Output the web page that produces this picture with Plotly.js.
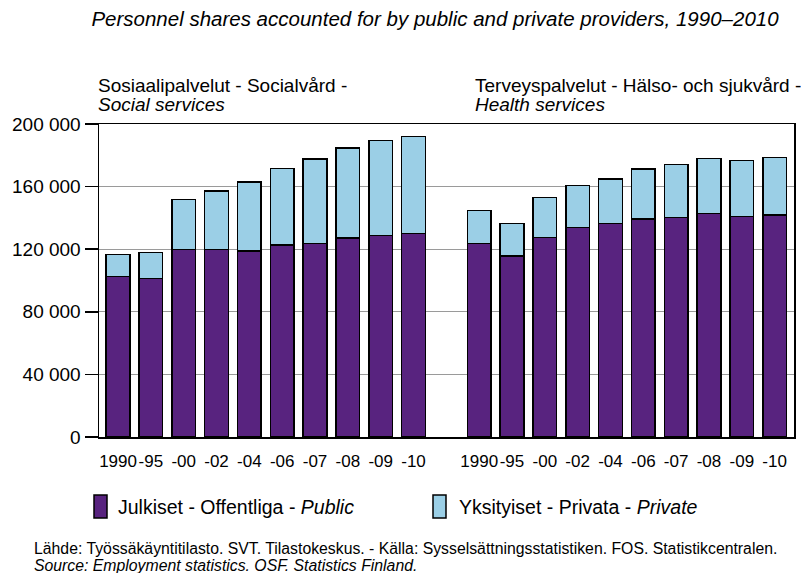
<!DOCTYPE html>
<html>
<head>
<meta charset="utf-8">
<script src="https://cdn.plot.ly/plotly-3.0.1.min.js"></script>
<style>
  html, body { margin: 0; padding: 0; background: #fff; }
  #chart { width: 801px; height: 573px; }
</style>
</head>
<body>
<div id="chart"></div>
<script>
// ---- Data ----
const categories = ['1990', '-95', '-00', '-02', '-04', '-06', '-07', '-08', '-09', '-10'];

// Social services (Sosiaalipalvelut - Socialvård)
const socialPublic  = [102400, 101300, 119700, 119700, 119000, 122600, 123700, 127300, 128800, 129900];
const socialPrivate = [14300, 16500, 32000, 37500, 44000, 49100, 53800, 57400, 60800, 62100];

// Health services (Terveyspalvelut - Hälso- och sjukvård)
const healthPublic  = [123700, 115600, 127600, 133800, 136300, 139300, 140200, 142700, 140800, 141800];
const healthPrivate = [21100, 20700, 25400, 26800, 28400, 32000, 33900, 35200, 35800, 36800];

const yTickVals = [0, 40000, 80000, 120000, 160000, 200000];
const yTickText = ['0', '40 000', '80 000', '120 000', '160 000', '200 000'];

const title = 'Personnel shares accounted for by public and private providers, 1990–2010';
const leftGroupTitle = 'Sosiaalipalvelut - Socialvård -';
const leftGroupSub = 'Social services';
const rightGroupTitle = 'Terveyspalvelut - Hälso- och sjukvård -';
const rightGroupSub = 'Health services';
const legendPublic = 'Julkiset - Offentliga - <i>Public</i>';
const legendPrivate = 'Yksityiset - Privata - <i>Private</i>';
const sourceLine1 = 'Lähde: Työssäkäyntitilasto. SVT. Tilastokeskus. - Källa: Sysselsättningsstatistiken. FOS. Statistikcentralen.';
const sourceLine2 = '<i>Source: Employment statistics. OSF. Statistics Finland.</i>';

// ---- Styling ----
const PURPLE = '#58237f';
const LIGHTBLUE = '#9bcfe6';
const FONT = 'Liberation Sans, Arial, Helvetica, sans-serif';

// Category positions: left group slots 0..9, gap slot 10, right group slots 11..20
const leftX = categories.map((c, i) => i);
const rightX = categories.map((c, i) => i + 11);
const allX = leftX.concat(rightX);
const allLabels = categories.concat(categories);

const barStyle = (color) => ({ color: color, line: { color: '#000', width: 1.5 } });

const traces = [
  { type: 'bar', x: leftX, y: socialPublic, marker: barStyle(PURPLE), width: 0.72, name: 'Public', hoverinfo: 'y' },
  { type: 'bar', x: leftX, y: socialPrivate, marker: barStyle(LIGHTBLUE), width: 0.72, name: 'Private', hoverinfo: 'y' },
  { type: 'bar', x: rightX, y: healthPublic, marker: barStyle(PURPLE), width: 0.72, name: 'Public', hoverinfo: 'y' },
  { type: 'bar', x: rightX, y: healthPrivate, marker: barStyle(LIGHTBLUE), width: 0.72, name: 'Private', hoverinfo: 'y' }
];

// helper: pixel -> paper coordinates
const L = 99, R = 7, T = 124, B = 136;
const W = 801 - L - R, H = 573 - T - B;
const px = (x) => (x - L) / W;
const py = (y) => (573 - B - y) / H;

const layout = {
  width: 801,
  height: 573,
  margin: { l: L, r: R, t: T, b: B, pad: 0 },
  paper_bgcolor: '#fff',
  plot_bgcolor: '#fff',
  barmode: 'stack',
  showlegend: false,
  font: { family: FONT, color: '#000', size: 16 },
  title: {
    text: '<i>' + title + '</i>',
    font: { family: FONT, size: 20.5, color: '#000' },
    x: 435 / 801, xanchor: 'center', xref: 'container',
    y: 1 - 19 / 573, yanchor: 'middle', yref: 'container'
  },
  xaxis: {
    range: [-0.58, 20.59],
    tickmode: 'array',
    tickvals: allX,
    ticktext: allLabels,
    tickangle: 0,
    ticks: '',
    showgrid: false,
    zeroline: false,
    showline: true,
    mirror: true,
    linecolor: '#000',
    linewidth: 1.5,
    tickfont: { family: FONT, size: 17, color: '#000' },
    ticklabelstandoff: 8,
    fixedrange: true
  },
  yaxis: {
    range: [0, 200000],
    tickmode: 'array',
    tickvals: yTickVals,
    ticktext: yTickText,
    ticks: 'outside',
    ticklen: 13,
    tickwidth: 1.5,
    tickcolor: '#000',
    showgrid: true,
    gridcolor: '#9a9a9a',
    gridwidth: 1.2,
    zeroline: false,
    showline: true,
    mirror: true,
    linecolor: '#000',
    linewidth: 1.5,
    tickfont: { family: FONT, size: 19, color: '#000' },
    ticklabelstandoff: 0,
    fixedrange: true
  },
  annotations: [
    { xref: 'paper', yref: 'paper', x: px(96), y: py(85), xanchor: 'left', yanchor: 'middle',
      text: leftGroupTitle, showarrow: false, font: { family: FONT, size: 19, color: '#000' } },
    { xref: 'paper', yref: 'paper', x: px(96), y: py(104), xanchor: 'left', yanchor: 'middle',
      text: '<i>' + leftGroupSub + '</i>', showarrow: false, font: { family: FONT, size: 19, color: '#000' } },
    { xref: 'paper', yref: 'paper', x: px(473), y: py(85), xanchor: 'left', yanchor: 'middle',
      text: rightGroupTitle, showarrow: false, font: { family: FONT, size: 19, color: '#000' } },
    { xref: 'paper', yref: 'paper', x: px(473), y: py(104), xanchor: 'left', yanchor: 'middle',
      text: '<i>' + rightGroupSub + '</i>', showarrow: false, font: { family: FONT, size: 19, color: '#000' } },
    // legend texts
    { xref: 'paper', yref: 'paper', x: px(116), y: py(507), xanchor: 'left', yanchor: 'middle',
      text: legendPublic, showarrow: false, font: { family: FONT, size: 19.5, color: '#000' } },
    { xref: 'paper', yref: 'paper', x: px(457), y: py(507), xanchor: 'left', yanchor: 'middle',
      text: legendPrivate, showarrow: false, font: { family: FONT, size: 19.5, color: '#000' } },
    // source
    { xref: 'paper', yref: 'paper', x: px(32), y: py(548), xanchor: 'left', yanchor: 'middle',
      text: sourceLine1, showarrow: false, font: { family: FONT, size: 15.8, color: '#000' } },
    { xref: 'paper', yref: 'paper', x: px(32), y: py(565), xanchor: 'left', yanchor: 'middle',
      text: sourceLine2, showarrow: false, font: { family: FONT, size: 15.8, color: '#000' } }
  ],
  shapes: [
    { type: 'rect', xref: 'paper', yref: 'paper', x0: px(94), x1: px(107), y0: py(495), y1: py(518),
      fillcolor: PURPLE, line: { color: '#000', width: 1.5 } },
    { type: 'rect', xref: 'paper', yref: 'paper', x0: px(433), x1: px(446), y0: py(495), y1: py(518),
      fillcolor: LIGHTBLUE, line: { color: '#000', width: 1.5 } }
  ]
};

Plotly.newPlot('chart', traces, layout, { displayModeBar: false, staticPlot: true });
</script>
</body>
</html>
